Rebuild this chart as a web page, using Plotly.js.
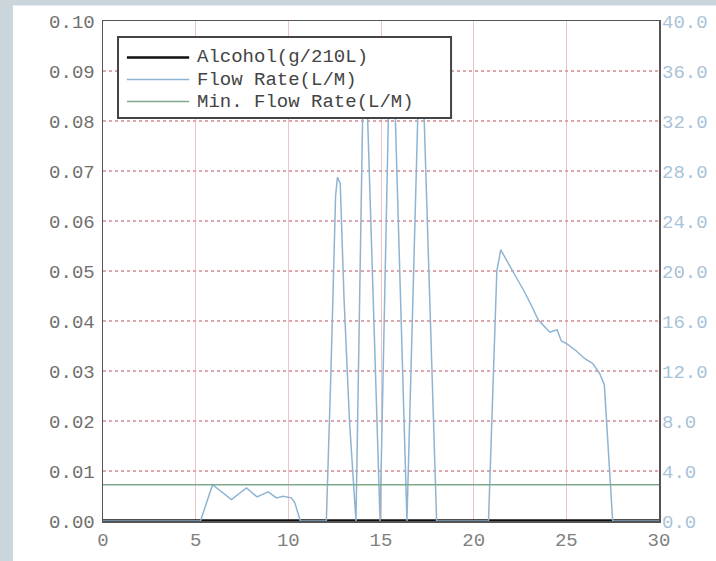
<!DOCTYPE html>
<html>
<head>
<meta charset="utf-8">
<script src="https://cdn.plot.ly/plotly-3.0.1.min.js"></script>
<style>
  html, body { margin: 0; padding: 0; background: #cbd5dc; }
  #chart { width: 716px; height: 561px; }
</style>
</head>
<body>
<div id="chart"></div>
<script>
// Alcohol (left axis, g/210L)
const alcoholTime = [0, 30];
const alcoholValues = [0, 0];

// Flow rate (right axis, L/M)
const flowTime = [0, 5.26, 5.91, 6.93, 7.74, 8.31, 8.91, 9.36, 9.72, 10.17, 10.35, 10.65,
  12.05, 12.3, 12.55, 12.65, 12.8, 13.0, 13.3, 13.65,
  14.05, 14.2, 14.95, 15.45, 15.7, 16.4, 17.05, 17.25, 18.0,
  20.8, 21.25, 21.46, 22.14, 22.68, 23.13, 23.48, 24.11, 24.5, 24.73, 25.0, 25.54, 25.98, 26.43, 26.8, 27.05, 27.18, 27.5, 30];
const flowValues = [0, 0, 2.9, 1.72, 2.65, 1.93, 2.33, 1.85, 1.98, 1.85, 1.45, 0,
  0, 12, 26, 27.5, 27, 18, 8, 0,
  36, 36, 0, 36, 36, 0, 36, 36, 0,
  0, 20.0, 21.7, 19.9, 18.5, 17.2, 16.1, 15.1, 15.3, 14.4, 14.2, 13.6, 13.0, 12.6, 11.8, 10.9, 7.8, 0, 0];

// Minimum flow rate (right axis, L/M)
const minFlowTime = [0, 30];
const minFlowValues = [2.9, 2.9];

const seriesNames = ["Alcohol(g/210L)", "Flow Rate(L/M)", "Min. Flow Rate(L/M)"];
const seriesColors = ["#111111", "#8fb4d2", "#7fa98c"];
const seriesWidths = [3.5, 1.5, 1.5];
const legendWidths = [2.5, 1.5, 1.5];

const mono = "Liberation Mono, Courier New, monospace";

const traces = [
  { x: alcoholTime, y: alcoholValues, name: seriesNames[0], yaxis: "y" },
  { x: flowTime, y: flowValues, name: seriesNames[1], yaxis: "y2" },
  { x: minFlowTime, y: minFlowValues, name: seriesNames[2], yaxis: "y2" }
].map((t, i) => Object.assign(t, {
  type: "scatter", mode: "lines", showlegend: false, cliponaxis: i !== 0,
  line: { color: seriesColors[i], width: seriesWidths[i] }
}));

// Hand-drawn legend box (paper coordinates), matching the compact printed legend
const legendBox = { x0: 0.027, x1: 0.626, y0: 0.806, y1: 0.968 };
const legendRows = [0.927, 0.883, 0.839];
const legendLine = { x0: 0.043, x1: 0.155 };
const legendTextX = 0.168;

const shapes = [
  { type: "rect", xref: "paper", yref: "paper", x0: -0.162, x1: 1.2, y0: -0.2, y1: 1.031,
    fillcolor: "#ffffff", line: { width: 0 }, layer: "below" },
  { type: "rect", xref: "paper", yref: "paper", x0: legendBox.x0, x1: legendBox.x1,
    y0: legendBox.y0, y1: legendBox.y1, fillcolor: "#ffffff",
    line: { color: "#444444", width: 2 }, layer: "above" }
];
const annotations = [];
seriesNames.forEach((name, i) => {
  shapes.push({ type: "line", xref: "paper", yref: "paper",
    x0: legendLine.x0, x1: legendLine.x1, y0: legendRows[i], y1: legendRows[i],
    line: { color: seriesColors[i], width: legendWidths[i] }, layer: "above" });
  annotations.push({ xref: "paper", yref: "paper", x: legendTextX, y: legendRows[i],
    xanchor: "left", yanchor: "middle", showarrow: false, text: name, borderpad: 0,
    font: { family: mono, size: 19, color: "#444444" } });
});

const layout = {
  width: 716, height: 561,
  margin: { l: 103, r: 57, t: 21, b: 40 },
  paper_bgcolor: "#cbd5dc",
  plot_bgcolor: "#ffffff",
  showlegend: false,
  xaxis: {
    range: [0, 30], dtick: 5, tick0: 0,
    showline: true, linecolor: "#555555", linewidth: 1.5, mirror: true,
    showgrid: true, gridcolor: "#efc3c8", gridwidth: 1,
    zeroline: false, ticks: "",
    tickfont: { family: mono, size: 19, color: "#808080" },
    ticklabelstandoff: 1
  },
  yaxis: {
    range: [0, 0.10], dtick: 0.01, tick0: 0, tickformat: ".2f",
    showline: true, linecolor: "#555555", linewidth: 1.5, mirror: true,
    showgrid: true, gridcolor: "#dca6ac", gridwidth: 1.5, griddash: "dot",
    zeroline: false, ticks: "",
    tickfont: { family: mono, size: 19, color: "#707070" },
    ticklabelstandoff: 3
  },
  yaxis2: {
    range: [0, 40], dtick: 4, tick0: 0, tickformat: ".1f",
    overlaying: "y", side: "right",
    showline: false, showgrid: false, zeroline: false, ticks: "",
    tickfont: { family: mono, size: 19, color: "#a9c3d8" },
    ticklabelstandoff: 2
  },
  shapes: shapes,
  annotations: annotations
};

Plotly.newPlot("chart", traces, layout, { displayModeBar: false, staticPlot: true });
</script>
</body>
</html>
